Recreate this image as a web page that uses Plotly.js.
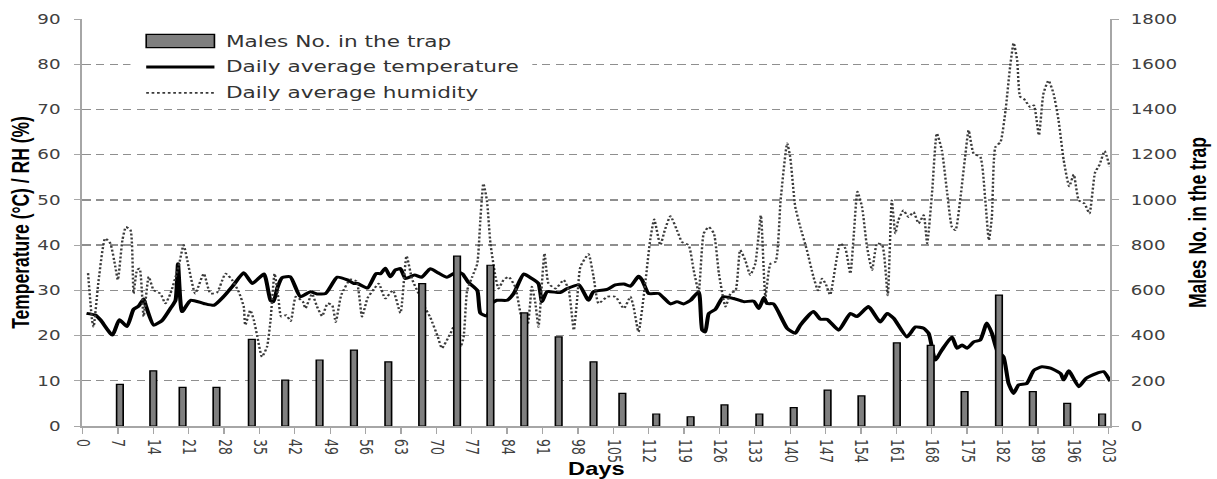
<!DOCTYPE html>
<html>
<head>
<meta charset="utf-8">
<script src="https://cdn.plot.ly/plotly-3.0.1.min.js"></script>
<style>
html, body { margin: 0; padding: 0; background: #fff; overflow: hidden; }
#wrap { width: 900px; height: 479px; transform: scaleX(1.35222); transform-origin: 0 0; }
</style>
</head>
<body>
<div id="wrap"><div id="chart" style="width:900px;height:479px;"></div></div>
<script>
// ---- data ----
const dayTicks = [0,7,14,21,28,35,42,49,56,63,70,77,84,91,98,105,112,119,126,133,140,147,154,161,168,175,182,189,196,203];
const leftTicks = [0,10,20,30,40,50,60,70,80,90];
const rightTicks = [0,200,400,600,800,1000,1200,1400,1600,1800];

const trapDays = [7.4,14,19.8,26.5,33.5,40.1,46.9,53.7,60.5,67.2,74.1,80.7,87.4,94.2,101.1,106.8,113.5,120.3,127,133.9,140.7,147.4,154.1,161.1,167.8,174.5,181.3,188,194.8,201.7];
const trapMales = [184,244,171,171,383,203,292,336,284,630,751,711,500,394,284,144,53,41,93,53,81,159,133,368,357,152,579,152,100,53];

const tempDays = [0.8,2.6,3.6,5.9,7.3,8.8,10.1,11.1,12.1,12.6,14.1,15.8,17.4,18.4,18.9,19.7,21.4,24,26,27.9,29.9,31.9,33.6,35.9,37.2,37.8,38.5,39.5,41.1,43.1,45.1,46.4,48.1,50.4,52.4,53.7,54.4,56.4,58.1,59.0,59.9,60.9,61.9,62.9,63.9,65.7,67.1,68.8,70.3,72.1,73.4,74.4,75.2,76.3,78.1,78.7,80,81,82,84,85.3,87.3,88.9,90.2,90.9,91.9,94.5,95.9,98.2,100.1,101.1,103.8,105.4,107.1,108.4,110,110.7,112,114,116.3,117.6,118.9,120.3,121.9,122.6,123.2,123.9,125.2,126.8,128.8,130.8,132.8,133.8,134.8,135.4,136.7,139.4,141,142,144.6,146,147.3,149.6,151.9,153.2,155.5,157.8,159.2,160.5,163.1,164.8,166.4,167.4,168.7,170,172,173,174,175,176.3,177.6,178.9,179.9,180.9,182.2,183.2,184.2,185.2,186.8,188.2,189.8,191.5,193.5,194.1,195.1,197.1,198.5,200.5,202,203.3];
const tempValues = [24.9,24.5,23.4,20.1,23.5,22.0,25.8,26.5,28.1,26.4,22.3,23.4,26.0,27.8,35.9,25.3,27.8,27.1,26.7,28.6,31.2,33.9,31.5,33.6,27.8,27.5,30.4,32.8,33.0,28.6,29.7,29.2,29.3,32.9,32.3,31.5,31.5,30.5,33.7,33.7,34.9,33.0,34.5,34.8,32.6,33.4,32.9,34.8,33.9,32.9,33.7,34.0,33.6,31.8,30.0,25.0,24.3,27.1,27.8,27.8,29.3,33.6,32.6,31.5,27.5,29.7,29.5,30.4,31.2,27.8,29.7,30.2,31.2,31.4,30.9,33.1,32.3,29.3,29.3,27.0,27.5,27.0,27.8,29.7,21.2,20.8,24.9,25.8,28.6,28.2,27.5,27.6,26.0,28.4,27.1,27.0,21.6,20.5,22.3,25.3,23.6,23.6,21.2,24.9,24.2,26.4,23.0,24.9,23.8,19.7,21.9,21.6,20.5,14.6,16.8,19.7,17.2,17.9,17.2,18.6,19.0,22.8,20.5,16.8,15.3,9.4,7.2,9.1,9.4,12.3,13.1,12.8,11.6,10.2,12.2,8.7,10.5,11.6,12.0,9.9];

const humDays = [1.1,1.9,2.2,3.2,4.5,5.5,6.5,7.0,7.9,8.6,9.5,10.1,10.8,11.3,12.1,13.1,14.1,15.4,16.4,17.4,19,20,21,22.3,24,25.3,26.6,28.3,29.6,30.9,31.9,32.2,33.2,33.9,34.6,35.5,36.5,37.2,38.0,38.8,39.3,40.3,41.2,42.2,43.6,44.1,45.4,46.4,47.4,48.5,49.4,50.1,51.2,53,54.2,55.3,56.4,57.8,58.6,59.9,61.4,62.9,64.1,65.2,66.6,67.5,68.8,70.3,71.1,72.8,73.8,74.8,75.4,76.1,77.1,78.1,78.7,79.3,80,80.7,81.7,82.3,83.3,84.3,85.6,87,88,88.9,89.6,90.2,91.4,92.2,93.6,95.2,96.2,97.2,97.9,98.5,100.1,101.1,102.1,103.8,105.4,107.1,108.4,109,110,111.4,112.3,113.1,114.3,115.2,116.3,117.6,118.6,119.9,120.9,121.9,122.9,123.9,124.9,125.9,127.2,128.2,129.2,130.1,131.1,132.1,133.1,134.2,135.1,136.1,137.1,138.1,139.4,140,141,142,143.3,144.6,145.5,146.3,147,147.9,149.9,150.9,151.9,152.6,153.3,154.2,155.2,156.2,157.2,158.2,159.3,160.1,160.8,161.4,162.4,163.4,164.4,165.4,166.4,167.1,168.1,169,170,171,172,172.7,173.7,174.6,175.3,176.3,177.6,178.6,179.3,179.9,180.6,181.6,182.6,183.5,184.2,184.9,185.5,186.2,187.5,188.2,189.2,190.1,191.1,192.1,193.1,194.1,195.2,196.1,197.1,198.2,199.2,200.3,201.2,202.2,203.2];
const humValues = [33.8,23.4,21.9,32.3,41.5,40.4,35.2,32.3,41.1,44.0,43.3,29.3,34.5,34.8,24.2,33.0,30.0,29.3,27.1,29.3,35.2,40.0,35.2,29.3,33.7,29.3,29.5,33.7,32.3,29.7,26.4,22.3,25.6,23.4,19.7,15.3,17.5,23.4,33.7,27.8,24.2,24.5,23.2,28.6,27.5,26.0,29.2,26.4,24.3,27.1,26.7,23.0,29.0,32.4,32.0,24.2,28.3,30.5,31.5,28.2,30.0,25.0,37.6,32.5,29.0,26.7,24.0,19.7,17.2,20.5,22.7,17.5,19.7,30.0,33.0,35.9,45.5,53.6,49.9,40.4,33.0,30.4,32.3,33.0,30.8,23.4,22.3,30.8,27.1,21.9,38.2,31.5,30.4,32.3,30.0,21.2,28.6,35.2,38.0,33.0,27.1,28.6,28.6,26.0,28.6,26.4,20.8,32.3,41.1,45.7,40.0,43.3,46.4,43.3,40.7,40.0,34.5,29.7,42.6,44.0,42.6,33.7,26.4,29.3,30.0,38.9,36.7,33.4,35.9,46.6,28.6,35.9,36.3,49.9,62.5,59.5,48.5,44.0,38.9,33.0,30.0,32.6,31.5,29.0,40.4,39.3,33.7,42.6,51.8,48.5,39.6,34.5,40.4,40.0,28.9,49.9,42.6,45.5,47.7,46.2,47.3,44.8,46.6,40.4,52.1,64.7,61.0,52.1,44.0,43.3,50.7,59.5,65.4,60.2,59.5,49.9,41.1,46.2,61.7,62.8,69.8,79.4,84.7,80.9,72.8,72.4,70.5,70.9,64.3,73.5,76.4,73.5,67.5,58.8,53.0,55.6,49.9,49.2,47.0,56.0,57.8,60.8,57.3];

// ---- chart ----
const tickFont = { family: 'DejaVu Sans, Verdana, sans-serif', size: 13.5, color: '#404040' };
const titleFont = { family: 'Liberation Sans, Arial, sans-serif', size: 17.5, color: '#000', weight: 'bold' };
const axisGray = '#a6a6a6';

const traces = [
  { type: 'scatter', mode: 'lines', x: tempDays, y: tempValues, yaxis: 'y',
    name: 'Daily average temperature', showlegend: false,
    line: { color: '#000', width: 3, shape: 'spline', smoothing: 0.5 } },
  { type: 'scatter', mode: 'lines', x: humDays, y: humValues, yaxis: 'y',
    name: 'Daily average humidity', showlegend: false,
    line: { color: '#3a3a3a', width: 1.8, dash: '2px,2px', shape: 'spline', smoothing: 0.5 } },
  { type: 'bar', x: trapDays, y: trapMales, yaxis: 'y2', width: 1.3,
    name: 'Males No. in the trap', showlegend: false,
    marker: { color: '#7f7f7f', line: { color: '#000', width: 1.2 } } }
];

// legend drawn by hand so the symbols match the long Excel keys
const L = { x0: 0.062, x1: 0.1284, tx: 0.1362, r1: 0.9455, r2: 0.8822, r3: 0.8183 };
const legendFont = { family: 'DejaVu Sans, Verdana, sans-serif', size: 16, color: '#333' };

const layout = {
  width: 900, height: 479,
  margin: { l: 60.64, r: 79.13, t: 18.7, b: 53 },
  paper_bgcolor: '#fff', plot_bgcolor: '#fff',
  showlegend: false,
  bargap: 0,
  xaxis: {
    range: [0, 203.3], tickmode: 'array', tickvals: dayTicks, ticktext: dayTicks.map(String),
    tickangle: 90, tickfont: { family: 'DejaVu Sans, Verdana, sans-serif', size: 12.5, color: '#404040' },
    ticks: 'outside', ticklen: 6, tickcolor: axisGray, tickwidth: 1,
    showline: true, linecolor: axisGray, linewidth: 1.5,
    showgrid: false, zeroline: false, ticklabelstandoff: 3,
    title: { text: 'Days', font: titleFont, standoff: 8 }
  },
  yaxis: {
    range: [0, 90], tickmode: 'array', tickvals: leftTicks, ticktext: leftTicks.map(String),
    tickfont: tickFont, ticks: 'outside', ticklen: 5, tickcolor: axisGray,
    showline: true, linecolor: axisGray, linewidth: 1.5,
    showgrid: true, gridcolor: '#8f8f8f', gridwidth: 1.3, griddash: '6px,4px',
    zeroline: false, ticklabelstandoff: 7,
    title: { text: 'Temperature (°C) / RH (%)', font: titleFont, standoff: 1 }
  },
  yaxis2: {
    range: [0, 1800], tickmode: 'array', tickvals: rightTicks, ticktext: rightTicks.map(String),
    overlaying: 'y', side: 'right', anchor: 'x',
    tickfont: tickFont, ticks: 'outside', ticklen: 5, tickcolor: axisGray,
    showline: true, linecolor: axisGray, linewidth: 1.5,
    showgrid: false, zeroline: false, ticklabelstandoff: 6,
    title: { text: 'Males No. in the trap', font: titleFont, standoff: 10 }
  },
  shapes: [
    { type: 'rect', xref: 'paper', yref: 'paper', x0: 0.0467, x1: 0.4377, y0: 0.7955, y1: 0.987,
      fillcolor: '#fff', line: { width: 0 }, layer: 'above' },
    { type: 'rect', xref: 'paper', yref: 'paper', x0: L.x0, x1: L.x1, y0: 0.9298, y1: 0.9624,
      fillcolor: '#7f7f7f', line: { color: '#000', width: 1.2 }, layer: 'above' },
    { type: 'line', xref: 'paper', yref: 'paper', x0: L.x0, x1: L.x1, y0: L.r2, y1: L.r2,
      line: { color: '#000', width: 3 }, layer: 'above' },
    { type: 'line', xref: 'paper', yref: 'paper', x0: L.x0, x1: L.x1, y0: L.r3, y1: L.r3,
      line: { color: '#3a3a3a', width: 1.8, dash: '2px,2px' }, layer: 'above' }
  ],
  annotations: [
    { xref: 'paper', yref: 'paper', x: L.tx, y: L.r1, xanchor: 'left', yanchor: 'middle',
      text: 'Males No. in the trap', showarrow: false, font: legendFont },
    { xref: 'paper', yref: 'paper', x: L.tx, y: L.r2, xanchor: 'left', yanchor: 'middle',
      text: 'Daily average temperature', showarrow: false, font: legendFont },
    { xref: 'paper', yref: 'paper', x: L.tx, y: L.r3, xanchor: 'left', yanchor: 'middle',
      text: 'Daily average humidity', showarrow: false, font: legendFont }
  ]
};

Plotly.newPlot('chart', traces, layout, { displayModeBar: false, staticPlot: true });
</script>
</body>
</html>
